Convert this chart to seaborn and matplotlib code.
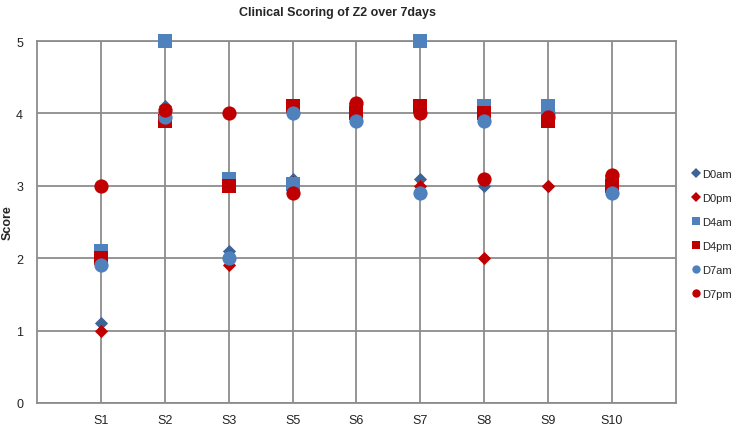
import matplotlib
matplotlib.use("Agg")
import matplotlib.pyplot as plt
import seaborn as sns
import pandas as pd
from matplotlib.lines import Line2D

categories = ["S1", "S2", "S3", "S5", "S6", "S7", "S8", "S9", "S10"]
D0am = [1.1, 4.1, 2.1, 3.1, 4.0, 3.1, 3.0, 3.0, 3.0]
D0pm = [1.0, 4.0, 1.9, 3.05, 4.0, 3.0, 2.0, 3.0, 3.0]
D4am = [2.1, 5.0, 3.1, 3.02, 4.05, 5.0, 4.1, 4.1, 3.05]
D4pm = [2.0, 3.9, 3.0, 4.1, 4.0, 4.1, 4.0, 3.9, 3.0]
D7am = [1.9, 3.95, 2.0, 4.0, 3.9, 2.9, 3.9, 4.0, 2.9]
D7pm = [3.0, 4.05, 4.0, 2.9, 4.15, 4.0, 3.1, 3.95, 3.15]
series_names = ["D0am", "D0pm", "D4am", "D4pm", "D7am", "D7pm"]
series_vals = [D0am, D0pm, D4am, D4pm, D7am, D7pm]

blue_dark = "#3D6496"
blue = "#4F81BD"
red = "#C00000"
styles = {
    "D0am": dict(marker="D", color=blue_dark, s=45),
    "D0pm": dict(marker="D", color=red, s=45),
    "D4am": dict(marker="s", color=blue, s=95),
    "D4pm": dict(marker="s", color=red, s=95),
    "D7am": dict(marker="o", color=blue, s=105),
    "D7pm": dict(marker="o", color=red, s=105),
}

rows = []
for name, vals in zip(series_names, series_vals):
    for c, v in zip(categories, vals):
        rows.append({"Sample": c, "Series": name, "Score": v})
df = pd.DataFrame(rows)

sns.set_style("white")
plt.rcParams["font.family"] = ["Liberation Sans", "DejaVu Sans"]

fig = plt.figure(figsize=(7.35, 4.27), dpi=100)
ax = fig.add_axes([0.0503, 0.0539, 0.8694, 0.8477])

for name in series_names:
    st = styles[name]
    sub = df[df["Series"] == name]
    sns.scatterplot(data=sub, x="Sample", y="Score", ax=ax, marker=st["marker"],
                    color=st["color"], s=st["s"], linewidth=0, zorder=3,
                    legend=False, clip_on=False)

ax.set_xlim(-1, len(categories))
ax.set_ylim(0, 5)
ax.set_yticks([0, 1, 2, 3, 4, 5])
ax.set_xticks(range(len(categories)))
ax.set_xticklabels(categories)
gc = "#8C8C8C"
ax.grid(True, color=gc, linewidth=1.3, zorder=0)
ax.set_axisbelow(True)
for sp in ax.spines.values():
    sp.set_visible(True)
    sp.set_color(gc)
    sp.set_linewidth(1.3)
ax.tick_params(axis="both", labelsize=9, colors="#222222", length=0, pad=8)
ax.tick_params(axis="y", length=4, color=gc, width=1.3, pad=6)
ax.set_xlabel("")
ax.set_ylabel("Score", fontsize=9, fontweight="bold")
ax.yaxis.set_label_coords(-0.037, 0.5)
ax.set_title("Clinical Scoring of Z2 over 7days", fontsize=9, fontweight="bold", pad=19, x=0.47)

handles = [Line2D([0], [0], marker=styles[n]["marker"], color="none",
                  markerfacecolor=styles[n]["color"], markeredgewidth=0,
                  markersize=5 if styles[n]["marker"] == "D" else 6, label=n)
           for n in series_names]
fig.legend(handles=handles, loc="center left", bbox_to_anchor=(0.936, 0.45),
           frameon=False, fontsize=8, handlelength=0.5, handletextpad=0.25,
           labelspacing=1.25, borderpad=0)

fig.savefig("out.png", dpi=100)
